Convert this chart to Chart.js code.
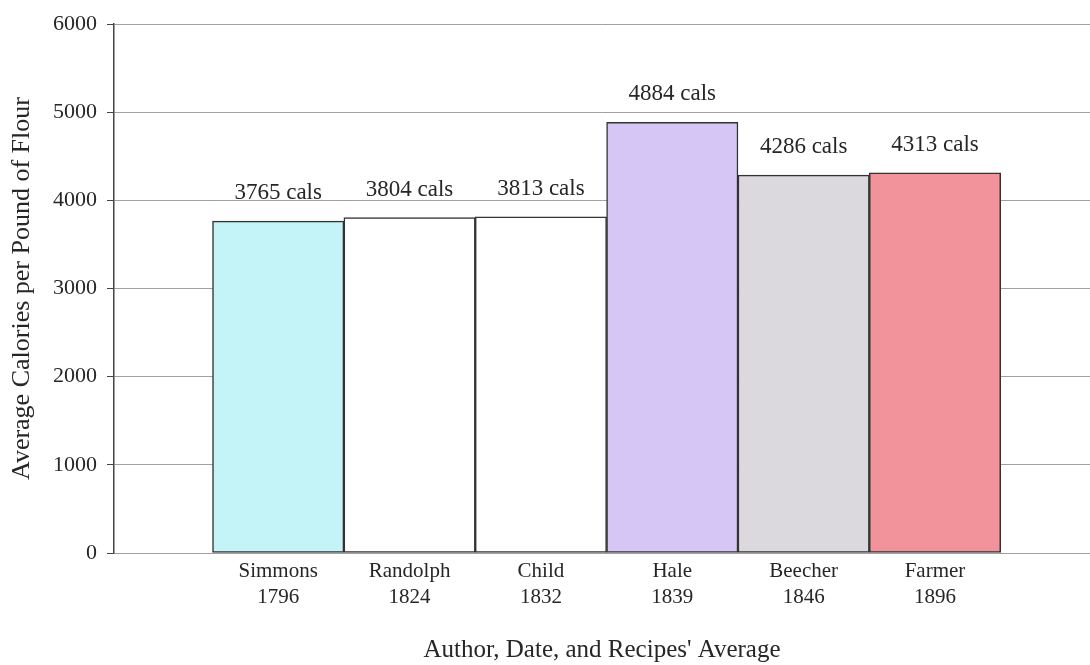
<!DOCTYPE html>
<html>
<head>
<meta charset="utf-8">
<title>Average Calories per Pound of Flour</title>
<script src="https://cdn.jsdelivr.net/npm/chart.js@4/dist/chart.umd.min.js"></script>
<style>
  html, body { margin: 0; padding: 0; background: #ffffff; }
  #wrap { width: 1090px; height: 665px; position: relative; }
</style>
</head>
<body>
<div id="wrap"><canvas id="chart"></canvas></div>
<script>
// Cookbook authors, publication years and average calories per pound of flour
const authors  = ['Simmons', 'Randolph', 'Child', 'Hale', 'Beecher', 'Farmer'];
const years    = ['1796', '1824', '1832', '1839', '1846', '1896'];
const calories = [3765, 3804, 3813, 4884, 4286, 4313];
const yTickValues = [0, 1000, 2000, 3000, 4000, 5000, 6000];

// Fill colour of each author's bar
const barFills = ['#c4f4f7', '#ffffff', '#ffffff', '#d5c6f5', '#dcd9de', '#f2939b'];

// Slot layout on the horizontal axis (one unit per bar)
const FIRST_SLOT = 1.25;
const X_MAX = 7.43;

const serif = '"Liberation Serif", "Times New Roman", serif';
const textColor = '#262626';

// Writes "NNNN cals" above each bar
const valueLabels = {
  id: 'valueLabels',
  afterDatasetsDraw(chart) {
    const { ctx } = chart;
    const meta = chart.getDatasetMeta(0);
    ctx.save();
    ctx.font = '23px ' + serif;
    ctx.fillStyle = textColor;
    ctx.textAlign = 'center';
    ctx.textBaseline = 'middle';
    meta.data.forEach((bar, i) => {
      ctx.fillText(calories[i] + ' cals', bar.x, bar.y - 28);
    });
    ctx.restore();
  }
};

new Chart(document.getElementById('chart'), {
  type: 'bar',
  data: {
    datasets: [{
      data: calories.map((v, i) => ({ x: i + FIRST_SLOT, y: v })),
      backgroundColor: barFills,
      borderColor: '#333333',
      borderWidth: 1.5,
      borderSkipped: false,
      categoryPercentage: 1,
      barPercentage: 1
    }]
  },
  options: {
    responsive: true,
    maintainAspectRatio: false,
    animation: false,
    layout: { padding: { top: 24, right: 0, bottom: 0, left: 0 } },
    plugins: {
      legend: { display: false },
      tooltip: { enabled: false }
    },
    scales: {
      x: {
        type: 'linear',
        min: 0,
        max: X_MAX,
        offset: false,
        grid: { display: false, drawTicks: false },
        border: { display: false },
        afterBuildTicks(scale) {
          scale.ticks = authors.map((_, i) => ({ value: i + FIRST_SLOT }));
        },
        afterFit(scale) { scale.height = 112; },
        ticks: {
          autoSkip: false,
          maxRotation: 0,
          padding: 5,
          color: textColor,
          font: { family: serif, size: 21, lineHeight: 1.24 },
          callback: (value, index) => [authors[index], years[index]]
        },
        title: {
          display: true,
          text: "Author, Date, and Recipes' Average",
          color: textColor,
          font: { family: serif, size: 25 },
          padding: { top: 0, bottom: 0 }
        }
      },
      y: {
        min: 0,
        max: 6000,
        afterBuildTicks(scale) {
          scale.ticks = yTickValues.map(v => ({ value: v }));
        },
        afterFit(scale) { scale.width = 114; },
        grid: {
          color: '#a0a0a0',
          lineWidth: 1,
          tickColor: '#444444',
          tickLength: 7
        },
        border: { display: true, color: '#444444', width: 1.5 },
        ticks: {
          padding: 10,
          color: textColor,
          font: { family: serif, size: 22 },
          callback: v => String(v)
        },
        title: {
          display: true,
          text: 'Average Calories per Pound of Flour',
          color: textColor,
          font: { family: serif, size: 26 },
          padding: { top: 7, bottom: 0 }
        }
      }
    }
  },
  plugins: [valueLabels]
});
</script>
</body>
</html>
